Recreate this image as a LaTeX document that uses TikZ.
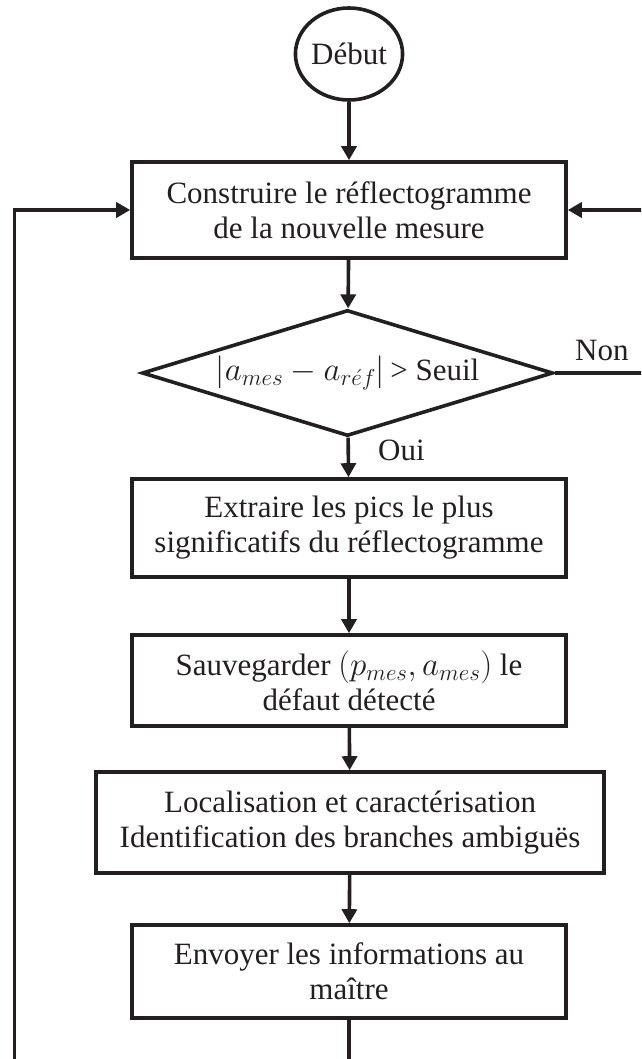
\RequirePackage{fix-cm}
\documentclass[tikz,border=0pt]{standalone}
\usepackage{fontspec}
\setmainfont{Liberation Serif}
\usetikzlibrary{arrows.meta,shapes.geometric}
\definecolor{ink}{HTML}{231F20}
\newcommand\mymath[1]{{\fontsize{33}{35}\selectfont$#1$}}
\tikzset{
  txt/.style={font=\fontsize{31}{35}\selectfont, text=ink},
  stepbox/.style={txt, draw=ink, line width=3.6pt, rectangle, align=center, inner sep=0pt},
  startnode/.style={txt, draw=ink, line width=3.6pt, ellipse, inner sep=0pt, minimum width=96pt, minimum height=92pt},
  testnode/.style={txt, draw=ink, line width=3.6pt, diamond, aspect=3.26, inner sep=0pt, minimum width=411pt, minimum height=126pt},
  flow/.style={draw=ink, line width=3.6pt, -{Triangle[length=14pt,width=15pt]}},
  plain/.style={draw=ink, line width=3.6pt},
}
\begin{document}
\begin{tikzpicture}[x=1pt,y=-1pt]
\clip (0,0) rectangle (641,1059);
\node[startnode] (start) at (349,54) {Début};
\node[stepbox, minimum width=434pt, minimum height=96pt] (b1) at (349,210)
  {Construire le réflectogramme\\de la nouvelle mesure};
\node[testnode] (d) at (347.5,373)
  {\mymath{\left|a_{mes}-a_{r\acute{e}f}\right|}\,> Seuil};
\node[stepbox, minimum width=434pt, minimum height=98pt] (b2) at (349,528)
  {Extraire les pics le plus\\significatifs du réflectogramme};
\node[stepbox, minimum width=434pt, minimum height=91pt] (b3) at (349,680.5)
  {Sauvegarder \mymath{(p_{mes}, a_{mes})} le\\défaut détecté};
\node[stepbox, minimum width=508pt, minimum height=101pt] (b4) at (350,822.5)
  {Localisation et caractérisation\\Identification des branches ambiguës};
\node[stepbox, minimum width=434pt, minimum height=93pt] (b5) at (349,971.5)
  {Envoyer les informations au\\maître};
\node[txt, anchor=base west, inner sep=0pt] (non) at (575,360) {Non};
\node[txt, anchor=base west, inner sep=0pt] (oui) at (378,460) {Oui};
\coordinate (bot) at (349,1070);
\coordinate (leftbot) at (14.5,1070);
\coordinate (rightnon) at (650,373);
\coordinate (righttop) at (650,210);
\draw[flow] (start) -- (b1);
\draw[flow] (b1) -- (d);
\draw[flow] (d) -- (b2);
\draw[flow] (b2) -- (b3);
\draw[flow] (b3) -- (b4);
\draw[flow] (b4) -- (b5);
\draw[plain] (b5) -- (bot);
\draw[flow] (leftbot) |- (b1.west);
\draw[plain] (d.east) -- (rightnon);
\draw[flow] (righttop) -- (b1.east);
\end{tikzpicture}
\end{document}
